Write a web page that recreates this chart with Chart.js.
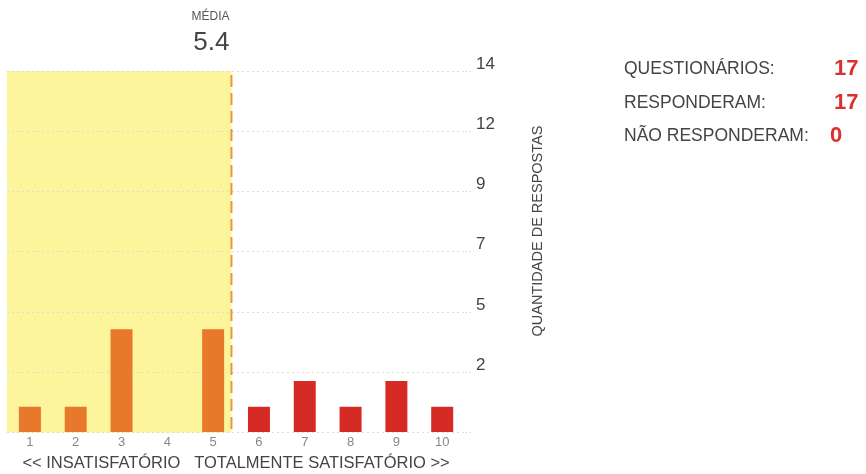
<!DOCTYPE html>
<html>
<head>
<meta charset="utf-8">
<script src="https://cdn.jsdelivr.net/npm/chart.js@4"></script>
<style>
  html, body { margin: 0; padding: 0; background: #fff; }
  body { width: 866px; height: 474px; position: relative; overflow: hidden;
         font-family: "Liberation Sans", Arial, sans-serif; }
  #wrap { position: absolute; left: 0; top: 0; width: 866px; height: 474px; }
  .stat { position: absolute; font-size: 17.5px; color: #444; line-height: 20px; }
  .val { position: absolute; font-size: 22px; font-weight: bold; color: #d9312b; line-height: 22px; }
</style>
</head>
<body>
<div id="wrap"><canvas id="chart"></canvas></div>
<div class="stat" style="left:624px; top:58px;">QUESTIONÁRIOS:</div>
<div class="val" style="left:834px; top:57px;">17</div>
<div class="stat" style="left:624px; top:92px;">RESPONDERAM:</div>
<div class="val" style="left:834px; top:91px;">17</div>
<div class="stat" style="left:624px; top:125px;">NÃO RESPONDERAM:</div>
<div class="val" style="left:830px; top:124px;">0</div>
<script>
const categories = ['1', '2', '3', '4', '5', '6', '7', '8', '9', '10'];
const responses = [1, 1, 4, 0, 4, 1, 2, 1, 2, 1];
const yMax = 14;
const yTickLabels = ['', '2', '5', '7', '9', '12', '14'];

// média ponderada das notas, arredondada como no rótulo
const total = responses.reduce((a, b) => a + b, 0);
const mean = Math.round(responses.reduce((s, v, i) => s + v * (i + 1), 0) / total * 10) / 10;

const meanPlugin = {
  id: 'meanBand',
  beforeDraw(chart) {
    const { ctx, chartArea, scales } = chart;
    const mx = scales.x.getPixelForValue(mean - 1);
    ctx.save();
    ctx.fillStyle = '#fdf59b';
    ctx.fillRect(chartArea.left, chartArea.top, mx - chartArea.left, chartArea.bottom - chartArea.top);
    ctx.restore();
  },
  afterDatasetsDraw(chart) {
    const { ctx, chartArea, scales } = chart;
    const mx = scales.x.getPixelForValue(mean - 1);
    ctx.save();
    ctx.strokeStyle = '#e79a3c';
    ctx.lineWidth = 2;
    ctx.setLineDash([12, 6]);
    ctx.beginPath();
    ctx.moveTo(mx, chartArea.top + 4);
    ctx.lineTo(mx, chartArea.bottom);
    ctx.stroke();
    ctx.restore();
  },
  afterDraw(chart) {
    const { ctx, scales } = chart;
    const mx = scales.x.getPixelForValue(mean - 1);
    ctx.save();
    ctx.textAlign = 'right';
    ctx.textBaseline = 'middle';
    ctx.fillStyle = '#555';
    ctx.font = '12px "Liberation Sans", Arial, sans-serif';
    ctx.fillText('MÉDIA', mx - 2, 17);
    ctx.fillStyle = '#444';
    ctx.font = '26px "Liberation Sans", Arial, sans-serif';
    ctx.fillText(mean.toFixed(1), mx - 2, 43);
    // título do eixo y, lido de baixo para cima
    ctx.translate(538, 231);
    ctx.rotate(-Math.PI / 2);
    ctx.textAlign = 'center';
    ctx.font = '14.5px "Liberation Sans", Arial, sans-serif';
    ctx.fillStyle = '#444';
    ctx.fillText('QUANTIDADE DE RESPOSTAS', 0, 0);
    ctx.restore();
  }
};

new Chart(document.getElementById('chart'), {
  type: 'bar',
  data: {
    labels: categories,
    datasets: [{
      data: responses,
      backgroundColor: ctx => ctx.dataIndex < 5 ? '#e8782b' : '#d62a25',
      categoryPercentage: 1,
      barPercentage: 0.48
    }]
  },
  options: {
    responsive: true,
    maintainAspectRatio: false,
    animation: false,
    layout: { padding: { left: 7, top: 71, right: 366, bottom: 1 } },
    plugins: { legend: { display: false }, tooltip: { enabled: false } },
    scales: {
      x: {
        grid: { display: false, drawTicks: false },
        border: { display: false },
        ticks: { color: '#888', font: { size: 13, family: '"Liberation Sans", Arial' }, padding: 2 },
        title: {
          display: true,
          text: '<< INSATISFATÓRIO   TOTALMENTE SATISFATÓRIO >>',
          color: '#444',
          font: { size: 16.5, family: '"Liberation Sans", Arial' },
          padding: { top: 1, bottom: 0 }
        }
      },
      y: {
        position: 'right',
        min: 0,
        max: yMax,
        afterBuildTicks: scale => {
          scale.ticks = yTickLabels.map((_, k) => ({ value: yMax * k / (yTickLabels.length - 1) }));
        },
        grid: { color: '#dcdcdc', tickLength: 6, tickColor: '#dcdcdc', tickBorderDash: [2, 3] },
        border: { display: false, dash: [2, 3] },
        ticks: {
          color: '#444',
          font: { size: 17, family: '"Liberation Sans", Arial' },
          padding: 5,
          labelOffset: -7,
          callback: (v, i) => yTickLabels[i]
        }
      }
    }
  },
  plugins: [meanPlugin]
});
</script>
</body>
</html>
